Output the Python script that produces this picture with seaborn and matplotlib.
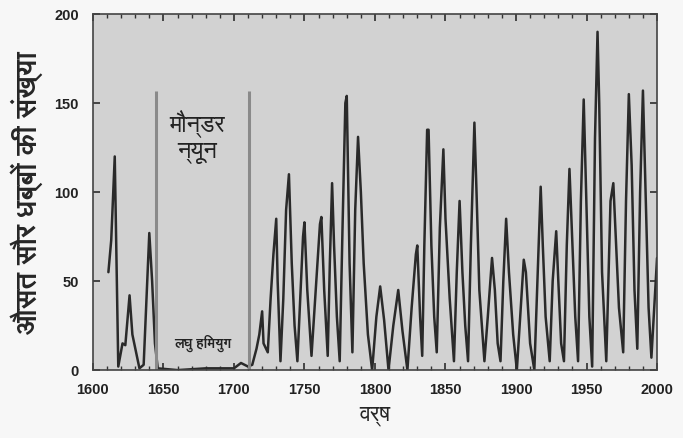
import pandas as pd
import matplotlib
matplotlib.use("Agg")
import matplotlib.pyplot as plt
from matplotlib import font_manager
from matplotlib.ft2font import FT2Font
from matplotlib.ticker import MultipleLocator
import seaborn as sns

# installed families that carry Devanagari glyphs, FreeSans/FreeSerif first
deva = []
for f in font_manager.fontManager.ttflist:
    try:
        cmap = FT2Font(f.fname).get_charmap()
    except Exception:
        continue
    if 0x0935 in cmap and f.name not in deva:
        deva.append(f.name)
deva.sort(key=lambda n: (0 if n == "FreeSans" else 1 if n == "FreeSerif" else 2 if "Unifont" not in n else 3))

# yearly sunspot values
years = [1611, 1613, 1615.5, 1618, 1621, 1623, 1626, 1628, 1633, 1636, 1640, 1642, 1644, 1646,
         1660, 1680, 1700, 1705, 1710, 1713,
         1716, 1718, 1720, 1721, 1724, 1726, 1728, 1730, 1731, 1733,
         1735, 1737, 1739, 1741, 1743, 1745, 1747, 1749, 1750, 1752, 1755,
         1758, 1761, 1762, 1764, 1766.5, 1768, 1769.6, 1771, 1773, 1775,
         1777, 1779, 1780, 1782, 1784, 1786, 1788, 1790, 1792, 1795, 1798,
         1801, 1803.7, 1806.5, 1809.6, 1813, 1816.5, 1819.5, 1823,
         1826, 1829, 1830, 1832, 1833.5, 1835, 1837, 1838, 1840, 1842, 1843.8,
         1846, 1848.5, 1850, 1853, 1856, 1858, 1860, 1862, 1864, 1866,
         1868, 1870.5, 1872, 1874, 1877.6, 1880, 1883, 1885, 1887, 1889,
         1891, 1893, 1895, 1898, 1900.6, 1903, 1905.5, 1907, 1910, 1913,
         1915, 1917.5, 1919, 1921, 1923.9, 1926, 1928.5, 1930, 1932, 1934,
         1936, 1937.9, 1940, 1942, 1944, 1946, 1948, 1950, 1952, 1954,
         1956, 1957.8, 1959, 1961, 1964, 1967, 1969, 1971, 1973, 1976,
         1978, 1980, 1982, 1984, 1986, 1988, 1990, 1992, 1994, 1996, 1998, 2000]
sunspots = [55, 73, 120, 2, 15, 14, 42, 20, 1, 3, 77, 50, 15, 1,
            0, 1, 1, 4, 2, 3,
            12, 20, 33, 15, 10, 40, 65, 85, 50, 5,
            40, 90, 110, 60, 25, 5, 40, 75, 83, 45, 8,
            45, 82, 86, 45, 8, 60, 105, 70, 30, 5,
            80, 150, 154, 60, 10, 90, 131, 100, 60, 20, 0,
            30, 47, 28, 0, 25, 45, 22, 0,
            35, 65, 70, 30, 8, 70, 135, 135, 70, 30, 10,
            80, 124, 85, 40, 5, 55, 95, 55, 25, 5,
            70, 139, 100, 45, 5, 30, 63, 45, 15, 5,
            50, 85, 55, 20, 0, 30, 62, 55, 15, 0,
            45, 103, 70, 30, 5, 50, 78, 50, 15, 5,
            70, 113, 70, 30, 5, 95, 152, 90, 30, 2,
            130, 190, 150, 55, 5, 95, 105, 70, 35, 10,
            95, 155, 115, 45, 12, 100, 157, 95, 35, 7, 35, 63]
df = pd.DataFrame({"year": years, "spots": sunspots})

maunder = [1645, 1711]
xticks = list(range(1600, 2001, 50))
yticks = [0, 50, 100, 150, 200]

sns.set_theme(style="ticks")
plt.rcParams["font.family"] = ["Liberation Sans", "DejaVu Sans"]
hindi = deva + ["DejaVu Sans"]

fig = plt.figure(figsize=(6.83, 4.38), dpi=100, facecolor="#f7f7f7")
ax = fig.add_axes([0.136, 0.155, 0.826, 0.813])
ax.set_facecolor("#d2d2d2")

sns.lineplot(data=df, x="year", y="spots", ax=ax, color="#2a2a2a", linewidth=1.8)
for x in maunder:
    ax.vlines(x, 0, 157, color="#8a8a8a", linewidth=2.2)

ax.set_xlim(1600, 2000)
ax.set_ylim(0, 200)
ax.set_xticks(xticks)
ax.set_yticks(yticks)
ax.xaxis.set_minor_locator(MultipleLocator(10))
ax.tick_params(which="both", direction="in", top=True, right=True, colors="#333333")
ax.tick_params(which="major", length=5, labelsize=10.5, labelcolor="#222222")
ax.tick_params(which="minor", length=3)
ax.tick_params(axis="x", pad=9)
ax.tick_params(axis="y", pad=10)
for lab in ax.get_xticklabels() + ax.get_yticklabels():
    lab.set_fontweight("bold")
for s in ax.spines.values():
    s.set_color("#444444")
    s.set_linewidth(1.2)

ax.set_xlabel("वर्ष", fontsize=16, family=hindi, labelpad=6)
ax.set_ylabel("औसत सौर धब्बों की संख्या", fontsize=20, family=hindi,
              fontweight="bold", labelpad=8)
ax.text(1674, 131, "मौन्डर\nन्यून", fontsize=17, family=hindi, ha="center", va="center",
        linespacing=1.15, color="#222222")
ax.text(1678, 15, "लघु हिमयुग", fontsize=10, family=hindi, ha="center", va="center",
        fontweight="bold", color="#222222")

fig.savefig("out.png", dpi=100, facecolor=fig.get_facecolor())
